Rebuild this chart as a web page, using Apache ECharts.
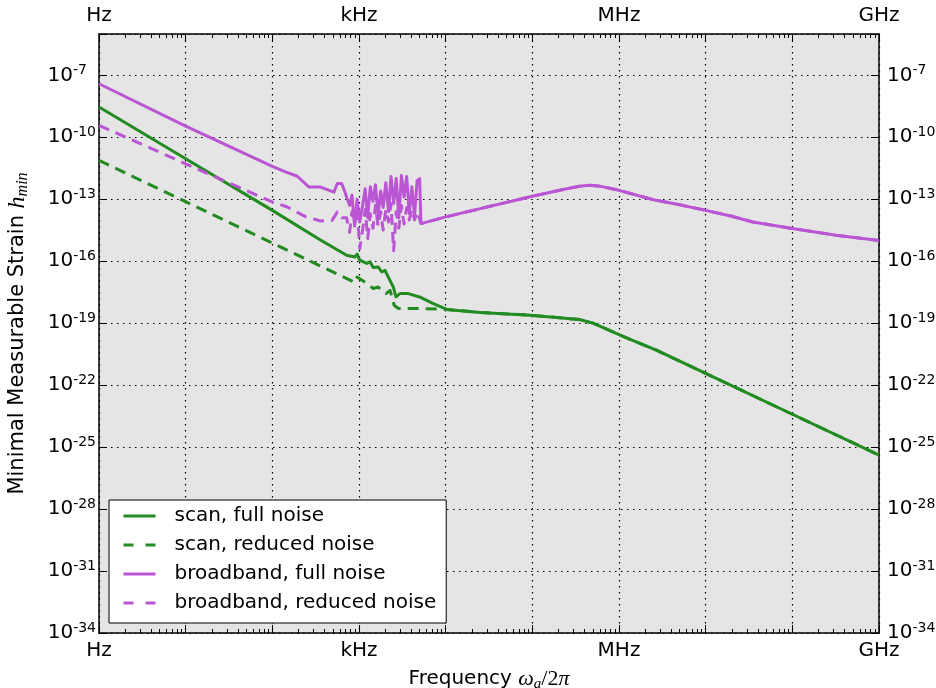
<!DOCTYPE html>
<html><head><meta charset="utf-8">
<script src="https://cdn.jsdelivr.net/npm/echarts@6/dist/echarts.min.js"></script>
<style>html,body{margin:0;padding:0;background:#fff}#c{width:936px;height:688px}</style>
</head><body><div id="c"></div>
<script>
// ---- data (frequency in Hz, minimal measurable strain) ----
const seriesNames = ['scan, full noise', 'scan, reduced noise', 'broadband, full noise', 'broadband, reduced noise'];

const scanFullFreq = [1, 10, 100, 355, 720, 900, 950, 1020, 1230, 1340, 1460, 1670, 1830, 2000, 2180, 2280, 2490, 2670, 2970, 3700, 5000, 7200, 10300];
const scanFullStrain = [2.9e-9, 9.1e-12, 2.9e-14, 1.1e-15, 1.95e-16, 1.6e-16, 2.2e-16, 1.12e-16, 7.8e-17, 9.3e-17, 4.9e-17, 5.2e-17, 3.0e-17, 3.6e-17, 1.7e-17, 2.1e-17, 5.6e-18, 1.9e-18, 2.7e-18, 2.7e-18, 1.86e-18, 8.9e-19, 4.6e-19];

const scanReducedFreq = [1, 10, 100, 355, 900, 950, 1230, 1460, 1670, 1830, 2050, 2280, 2490, 2540, 2850, 4000, 6000, 10300];
const scanReducedStrain = [7.6e-12, 7.6e-14, 7.6e-16, 6.0e-17, 9.3e-18, 1.7e-17, 8.3e-18, 4.8e-18, 5.6e-18, 3.9e-18, 2.7e-18, 3.9e-18, 1.07e-18, 7.4e-19, 5.1e-19, 5.2e-19, 5.0e-19, 4.6e-19];

// shared high-frequency part of both scan curves
const scanTailFreq = [25000, 94000, 350000, 500000, 850000, 1.2e6, 2.7e6, 1e7, 1e8, 1e9];
const scanTailStrain = [3.3e-19, 2.45e-19, 1.5e-19, 1.0e-19, 3.8e-20, 2.0e-20, 4.9e-21, 3.7e-22, 3.9e-24, 4.1e-26];

const broadFullFreq = [1, 10, 100, 142, 194, 265, 361, 514, 562, 630, 690, 720, 780, 830, 890, 950, 1020, 1100, 1180, 1260, 1350, 1450, 1550, 1660, 1780, 1900, 2040, 2190, 2340, 2510, 2690, 2880, 3090, 3310, 3550, 3800, 4070, 4370, 4680, 5010, 5190];
const broadFullStrain = [3.9e-8, 3.5e-10, 3.9e-12, 2.1e-12, 1.3e-12, 3.9e-13, 3.9e-13, 2.2e-13, 5.8e-13, 5.8e-13, 2.2e-13, 1.26e-13, 5.0e-14, 1.6e-13, 5.0e-15, 1.0e-13, 7.9e-15, 5.0e-14, 3.2e-13, 1.26e-14, 4.0e-13, 7.9e-14, 5.0e-13, 1.6e-14, 2.5e-13, 4.0e-14, 6.3e-13, 2.5e-14, 1.26e-12, 6.3e-14, 1.0e-12, 1.26e-14, 1.4e-12, 1.26e-13, 1.26e-12, 2.0e-14, 4.0e-13, 1.6e-14, 7.9e-13, 1.0e-12, 6.6e-15];

const broadReducedFreq = [1, 10, 100, 149, 243, 361, 490, 562, 630, 720, 780, 830, 890, 950, 1020, 1100, 1180, 1260, 1350, 1450, 1550, 1660, 1780, 1900, 2040, 2190, 2340, 2510, 2690, 2880, 3090, 3310, 3550, 3800, 4070, 4370, 4680, 5190];
const broadReducedStrain = [3.8e-10, 5.2e-12, 7.4e-14, 4.2e-14, 1.4e-14, 8.9e-15, 9.5e-15, 2.4e-14, 1.26e-14, 1.26e-14, 2.5e-15, 2.5e-14, 6.3e-15, 4.0e-14, 4.0e-16, 3.2e-15, 3.2e-14, 1.26e-15, 2.0e-14, 4.0e-15, 5.0e-14, 5.0e-15, 2.5e-14, 3.2e-15, 3.2e-14, 7.9e-15, 6.3e-14, 3.2e-16, 2.5e-14, 4.0e-15, 5.0e-14, 6.3e-15, 4.0e-14, 1.0e-14, 3.2e-14, 1.0e-14, 2.5e-14, 6.6e-15];

// shared high-frequency part of both broadband curves
const broadTailFreq = [10000, 100000, 227000, 350000, 460000, 600000, 1e6, 2.5e6, 5e6, 1e7, 2e7, 3.5e7, 1e8, 3.2e8, 1e9];
const broadTailStrain = [1.4e-14, 1.4e-13, 2.95e-13, 4.3e-13, 4.7e-13, 4.3e-13, 2.7e-13, 9.5e-14, 5.4e-14, 2.9e-14, 1.5e-14, 7.9e-15, 3.8e-15, 1.8e-15, 1.0e-15];

// axis ticks
const xTickDecades = [0, 3, 6, 9];
const xTickLabels = ['Hz', 'kHz', 'MHz', 'GHz'];
const yMinExp = -34, yMaxExp = -5, yStepExp = 3;

// ---- build ----
const GREEN = '#228B22', PURPLE = '#BA55D3';
function pts(f, h) { return f.map((v, i) => [Math.log10(v), Math.log10(h[i])]); }
const minorX = [];
for (let d = 0; d < 9; d++) for (let k = 2; k <= 9; k++) minorX.push(d + Math.log10(k));

const FONT = 'DejaVu Sans';
const xLabelFmt = v => { const i = xTickDecades.indexOf(Math.round(v)); return (Math.abs(v - Math.round(v)) < 1e-6 && i >= 0) ? xTickLabels[i] : ''; };
const isYTick = v => !(v > yMaxExp - 0.5 || (v - yMinExp) % yStepExp !== 0);
const yLabelLeft = v => isYTick(v) ? ('{b|10}{s|' + v + '}' + (String(v).length < 3 ? '{p| }' : '')) : '';
const yLabelRight = v => isYTick(v) ? ('{b|10}{s|' + v + '}') : '';
const yRich = { b: { fontSize: 20, lineHeight: 24, fontFamily: FONT, color: '#000' },
  s: { fontSize: 14, lineHeight: 14, verticalAlign: 'top', fontFamily: FONT, color: '#000' },
  p: { width: 9, fontSize: 14 } };

const gridLine = { show: true, lineStyle: { color: '#000', width: 1.2, type: [1.5, 4.5] } };
function mainX(pos, showSplit) {
  return { type: 'value', position: pos, min: 0, max: 9, interval: 1,
    axisLine: { show: true, onZero: false, lineStyle: { color: '#000', width: 1.5 } },
    axisTick: { show: true, inside: true, length: 8, lineStyle: { color: '#000', width: 1 } },
    axisLabel: { show: true, formatter: xLabelFmt, fontSize: 20, fontFamily: FONT, color: '#000', margin: 8 },
    splitLine: showSplit ? gridLine : { show: false } };
}
function minorXAxis(pos) {
  return { type: 'value', position: pos, min: 0, max: 9, interval: 1,
    axisLine: { show: false }, axisLabel: { show: false }, splitLine: { show: false },
    axisTick: { show: true, inside: true, length: 4, customValues: minorX, lineStyle: { color: '#000', width: 1 } } };
}
function mainY(pos, showSplit, fmt, margin) {
  return { type: 'value', position: pos, min: yMinExp, max: yMaxExp, interval: yStepExp,
    axisLine: { show: true, onZero: false, lineStyle: { color: '#000', width: 1.5 } },
    axisTick: { show: true, inside: true, length: 8, lineStyle: { color: '#000', width: 1 } },
    axisLabel: { show: true, formatter: fmt, rich: yRich, margin },
    splitLine: showSplit ? gridLine : { show: false } };
}

const xa0 = mainX('bottom', true);
xa0.name = 'Frequency {m|ω}{sub|a}{r|/2}{m|π}';
xa0.nameLocation = 'middle'; xa0.nameGap = 32;
xa0.nameTextStyle = { fontFamily: FONT, fontSize: 20, color: '#000', lineHeight: 26,
  rich: { m: { fontFamily: 'Liberation Serif', fontStyle: 'italic', fontSize: 22, lineHeight: 26, color: '#000' },
          r: { fontFamily: 'Liberation Serif', fontSize: 22, lineHeight: 26, color: '#000' },
          sub: { fontFamily: 'Liberation Serif', fontStyle: 'italic', fontSize: 15, lineHeight: 15, verticalAlign: 'bottom', color: '#000' } } };

const ya0 = mainY('left', true, yLabelLeft, 3);
ya0.name = 'Minimal Measurable Strain {m|h}{sub|min}';
ya0.nameLocation = 'middle'; ya0.nameRotate = 90; ya0.nameGap = 68;
ya0.nameTextStyle = { fontFamily: FONT, fontSize: 21, color: '#000', lineHeight: 26,
  rich: { m: { fontFamily: 'Liberation Serif', fontStyle: 'italic', fontSize: 24, lineHeight: 26, color: '#000' },
          sub: { fontFamily: 'Liberation Serif', fontStyle: 'italic', fontSize: 16, lineHeight: 16, verticalAlign: 'bottom', color: '#000' } } };

function lineSeries(name, data, color, dashed) {
  return { name, type: 'line', data, xAxisIndex: 0, yAxisIndex: 0, symbol: 'none', showSymbol: false,
    animation: false, clip: true,
    lineStyle: { color, width: 3, type: dashed ? [11, 7] : 'solid', cap: 'butt', join: 'round' },
    itemStyle: { color } };
}
function legendItem(name, color, dashed) {
  return { name, itemStyle: { color: 'rgba(0,0,0,0)', borderWidth: 0, opacity: 0 },
    lineStyle: { color, width: 3, type: dashed ? [10, 12] : 'solid', cap: 'butt' } };
}

const option = {
  animation: false,
  backgroundColor: '#fff',
  textStyle: { fontFamily: FONT },
  grid: { left: 99, right: 57, top: 34, bottom: 55, show: true, backgroundColor: '#e5e5e5', borderWidth: 0,
    containLabel: false, outerBoundsMode: 'none' },
  legend: {
    orient: 'vertical', left: 109, top: 500,
    data: [legendItem(seriesNames[0], GREEN, false), legendItem(seriesNames[1], GREEN, true),
           legendItem(seriesNames[2], PURPLE, false), legendItem(seriesNames[3], PURPLE, true)],
    backgroundColor: '#fff', borderColor: '#000', borderWidth: 1, borderRadius: 0,
    padding: [6, 10, 10, 13], itemGap: 9, itemWidth: 32, itemHeight: 14,
    itemStyle: { color: 'rgba(0,0,0,0)', borderWidth: 0, opacity: 0 },
    textStyle: { fontSize: 20, lineHeight: 20, fontFamily: FONT, color: '#000', padding: [0, 0, 0, 14] },
    selectedMode: false
  },
  xAxis: [xa0, mainX('top', false), minorXAxis('bottom'), minorXAxis('top')],
  yAxis: [ya0, mainY('right', false, yLabelRight, 8)],
  series: [
    lineSeries(seriesNames[0], pts(scanFullFreq.concat(scanTailFreq), scanFullStrain.concat(scanTailStrain)), GREEN, false),
    lineSeries(seriesNames[1], pts(scanReducedFreq.concat(scanTailFreq), scanReducedStrain.concat(scanTailStrain)), GREEN, true),
    lineSeries(seriesNames[2], pts(broadFullFreq.concat(broadTailFreq), broadFullStrain.concat(broadTailStrain)), PURPLE, false),
    lineSeries(seriesNames[3], pts(broadReducedFreq.concat(broadTailFreq), broadReducedStrain.concat(broadTailStrain)), PURPLE, true)
  ]
};
const chart = echarts.init(document.getElementById('c'), null, { renderer: 'canvas' });
chart.setOption(option);
</script></body></html>
